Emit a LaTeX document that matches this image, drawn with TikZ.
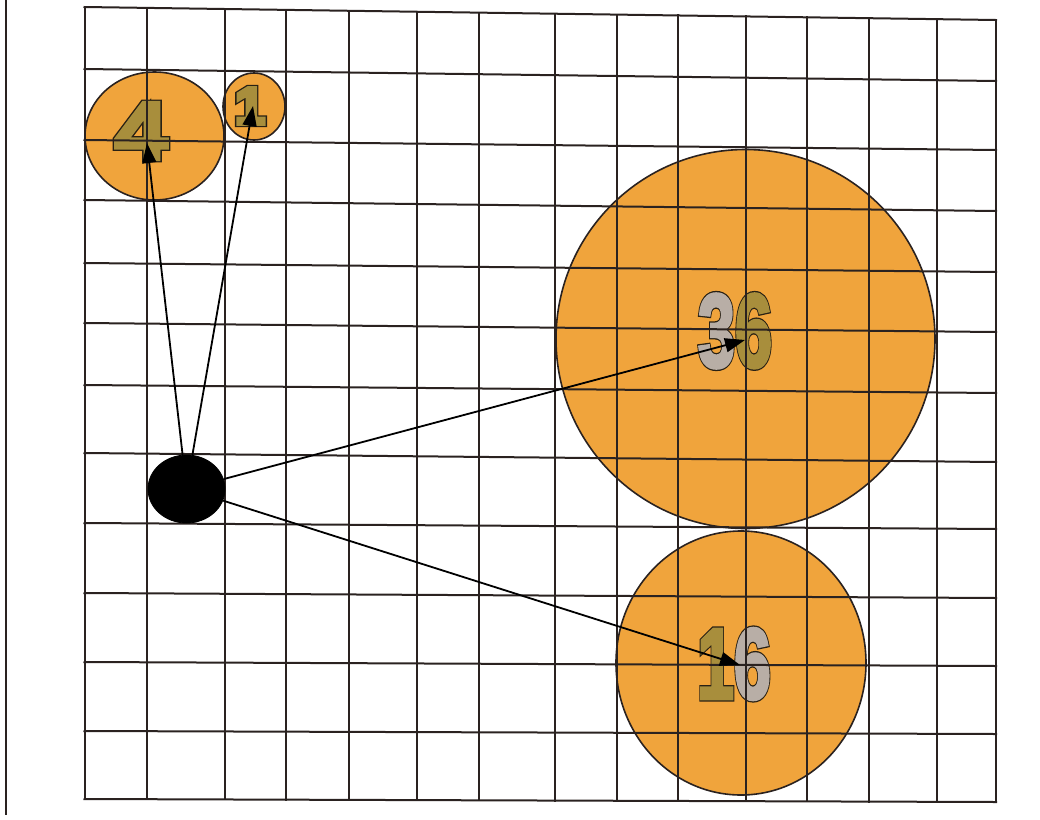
\documentclass[tikz,border=0pt]{standalone}
\usepackage{fontspec}
\setmainfont{Liberation Sans}
\usetikzlibrary{arrows.meta,shapes.geometric}
\definecolor{disc}{HTML}{F0A43C}
\definecolor{olivefill}{HTML}{A88E3C}
\definecolor{greyfill}{HTML}{B8AEA6}
\definecolor{gridc}{HTML}{2A2220}
\newcommand{\outl}[2]{{\color{#1}\rlap{\special{pdf:literal direct 0.16 0.13 0.08 RG 2 Tr 3.2 w}#2}{\color{#1}\special{pdf:literal direct 2 Tr 1.9 w}#2}\special{pdf:literal direct 0 Tr}}}
\tikzset{
  gridline/.style={draw=gridc, line width=1pt, line cap=rect},
  discfill/.style={fill=disc},
  discline/.style={draw=gridc, line width=0.8pt},
  arr/.style={draw=black, line width=0.9pt, -{Triangle[length=10pt,width=7pt]}},
  numtext/.style={inner sep=0pt, font=\bfseries},
  dotnode/.style={ellipse, fill=black, draw=black, inner sep=0pt, minimum width=38.5pt, minimum height=34pt}
}
\begin{document}
\begin{tikzpicture}[x=0.5pt,y=-0.5pt]
\useasboundingbox (0,0) rectangle (1040,820);
% left frame line
\draw[draw=gridc, line width=0.8pt] (6,0) -- (6,815);
% disc fills
\fill[discfill] (154.5,136) ellipse [x radius=69.5, y radius=64];
\fill[discfill] (254,106.5) ellipse [x radius=31, y radius=33.5];
\fill[discfill] (745.5,339) ellipse [x radius=189.5, y radius=189.5];
\fill[discfill] (741,663) ellipse [x radius=125, y radius=132];
% numbers
\node[numtext] (n4) at (141,131) {\fontsize{41}{41}\selectfont\scalebox{1.15}[1]{\outl{olivefill}{4}}};
\node[numtext] (n1) at (250,106) {\fontsize{26}{26}\selectfont\scalebox{1.05}[1]{\outl{olivefill}{1}}};
\node[numtext] (n36) at (735,331) {\fontsize{52}{52}\selectfont\scalebox{0.64}[1]{\outl{greyfill}{3}\outl{olivefill}{6}}};
\node[numtext] (n16) at (734,664) {\fontsize{50}{50}\selectfont\scalebox{0.66}[1]{\outl{olivefill}{1}\outl{greyfill}{6}}};
% grid
\foreach \x in {84.5,146.5,224.5,286,348.5,417,479,555,617,678,746,807,869,937,996}{
  \pgfmathsetmacro\yt{7+13*(\x-84.5)/911.5}
  \pgfmathsetmacro\yb{799+3*(\x-84.5)/911.5}
  \draw[gridline] (\x,\yt) -- (\x,\yb);
}
\foreach \a/\b in {7/20,69/81,140/150,200/211,263/272,323/332,385/393,453/462,523/529,593/598,662/666,731/734,799/802}{
  \draw[gridline] (84.5,\a) -- (996,\b);
}
% disc outlines
\draw[discline] (154.5,136) ellipse [x radius=69.5, y radius=64];
\draw[discline] (254,106.5) ellipse [x radius=31, y radius=33.5];
\draw[discline] (745.5,339) ellipse [x radius=189.5, y radius=189.5];
\draw[discline] (741,663) ellipse [x radius=125, y radius=132];
% source dot
\node[dotnode] (dot) at (186.5,489) {};
% arrow tips
\coordinate (t4) at (147,143);
\coordinate (t1) at (253,106);
\coordinate (t36) at (745,340);
\coordinate (t16) at (740,665);
\draw[arr] (dot) -- (t4);
\draw[arr] (dot) -- (t1);
\draw[arr] (dot) -- (t36);
\draw[arr] (dot) -- (t16);
\end{tikzpicture}
\end{document}
